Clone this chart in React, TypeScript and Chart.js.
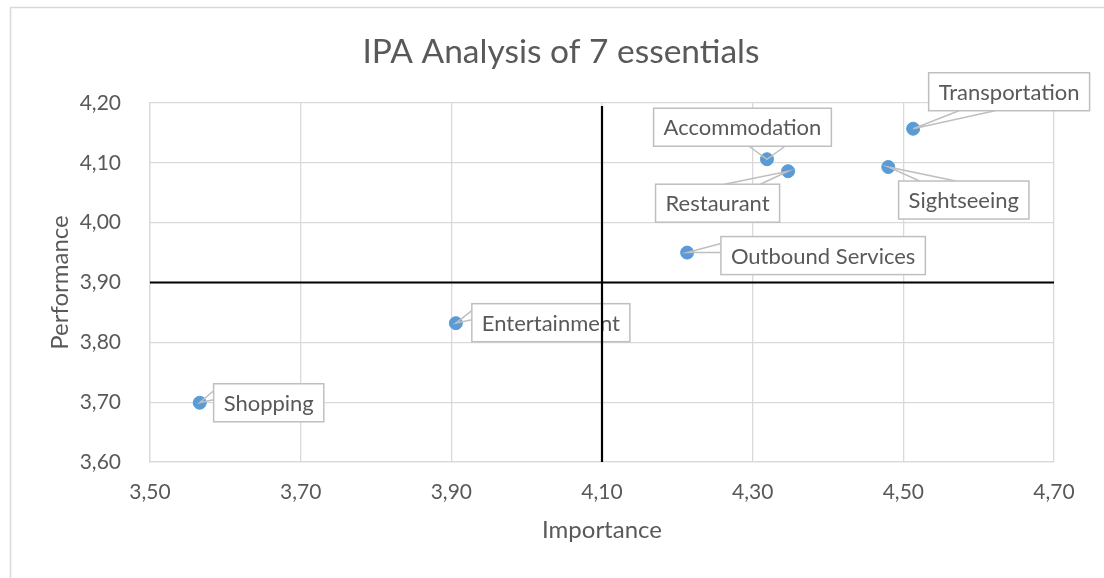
import React, { useEffect, useRef } from 'react';
import { Chart, registerables } from 'chart.js';

Chart.register(...registerables);

// ---- data ----
const categories = [
  'Transportation',
  'Accommodation',
  'Restaurant',
  'Sightseeing',
  'Outbound Services',
  'Entertainment',
  'Shopping',
];
const importance = [4.513, 4.319, 4.347, 4.48, 4.213, 3.906, 3.566];
const performance = [4.157, 4.106, 4.086, 4.093, 3.95, 3.832, 3.699];
const xTickValues = [3.5, 3.7, 3.9, 4.1, 4.3, 4.5, 4.7];
const yTickValues = [3.6, 3.7, 3.8, 3.9, 4.0, 4.1, 4.2];
const importanceMean = 4.1;
const performanceMean = 3.9;

// ---- label layout (box centre offset from its point, px) ----
const labelOffsets: [number, number][] = [
  [96, -37],
  [-24.5, -32],
  [-70.5, 32],
  [75.5, 33],
  [136, 3],
  [95, -0.5],
  [69, 0],
];

const TEXT = '#595959';
const GRID = '#D9D9D9';
const CALLOUT = '#BFBFBF';
const FONT = 'Lato';

const fmt = (v: number | string) => Number(v).toFixed(2).replace('.', ',');
const clamp = (v: number, a: number, b: number) => Math.max(a, Math.min(b, v));

const backgroundPlugin = {
  id: 'bgFrame',
  beforeDraw(chart: any) {
    const ctx = chart.ctx;
    ctx.save();
    ctx.fillStyle = '#FFFFFF';
    ctx.fillRect(0, 0, chart.width, chart.height);
    ctx.strokeStyle = GRID;
    ctx.lineWidth = 1.5;
    ctx.strokeRect(10.5, 7.5, chart.width + 40, chart.height + 40);
    ctx.restore();
  },
};

const calloutPlugin = {
  id: 'callouts',
  afterDatasetsDraw(chart: any) {
    const ctx = chart.ctx;
    const meta = chart.getDatasetMeta(0);
    ctx.save();
    ctx.font = `22px ${FONT}`;
    meta.data.forEach((pt: any, i: number) => {
      const text = categories[i];
      const [dx, dy] = labelOffsets[i];
      const tw = ctx.measureText(text).width;
      const w = tw + 20;
      const h = 38;
      const cx = pt.x + dx;
      const cy = pt.y + dy;
      const l = cx - w / 2, r = cx + w / 2, t = cy - h / 2, b = cy + h / 2;
      let a1: [number, number], a2: [number, number];
      if (pt.y > b) {
        const c = clamp(pt.x, l + 0.3 * w, r - 0.3 * w);
        a1 = [c - 18, b];
        a2 = [c + 18, b];
      } else if (pt.y < t) {
        const c = clamp(pt.x, l + 0.3 * w, r - 0.3 * w);
        a1 = [c - 18, t];
        a2 = [c + 18, t];
      } else if (pt.x < l) {
        a1 = [l, t + 7];
        a2 = [l, t + 16];
      } else {
        a1 = [r, t + 7];
        a2 = [r, t + 16];
      }
      ctx.strokeStyle = CALLOUT;
      ctx.lineWidth = 1.5;
      ctx.beginPath();
      ctx.moveTo(a1[0], a1[1]);
      ctx.lineTo(pt.x, pt.y);
      ctx.lineTo(a2[0], a2[1]);
      ctx.stroke();
      ctx.fillStyle = '#FFFFFF';
      ctx.fillRect(l, t, w, h);
      ctx.strokeRect(l, t, w, h);
      ctx.fillStyle = TEXT;
      ctx.textAlign = 'center';
      ctx.textBaseline = 'middle';
      ctx.fillText(text, cx, cy + 1);
    });
    ctx.restore();
  },
};

const quadrantPlugin = {
  id: 'quadrants',
  afterDraw(chart: any) {
    const ctx = chart.ctx;
    const xs = chart.scales.x;
    const ys = chart.scales.y;
    const area = chart.chartArea;
    ctx.save();
    ctx.strokeStyle = '#000000';
    ctx.lineWidth = 2.2;
    const vx = xs.getPixelForValue(importanceMean);
    ctx.beginPath();
    ctx.moveTo(vx, area.top + 3);
    ctx.lineTo(vx, area.bottom);
    ctx.stroke();
    const hy = ys.getPixelForValue(performanceMean);
    ctx.beginPath();
    ctx.moveTo(area.left, hy);
    ctx.lineTo(area.right, hy);
    ctx.stroke();
    ctx.restore();
  },
};

export default function App() {
  const ref = useRef<HTMLCanvasElement | null>(null);

  useEffect(() => {
    if (!ref.current) return;
    const chart = new Chart(ref.current, {
      type: 'scatter',
      data: {
        datasets: [
          {
            label: 'IPA',
            data: importance.map((x, i) => ({ x, y: performance[i] })),
            backgroundColor: '#5B9BD5',
            borderColor: '#5B9BD5',
            borderWidth: 1,
            pointRadius: 6.5,
          },
        ],
      },
      options: {
        responsive: false,
        animation: false,
        layout: { padding: { left: 68, right: 50, top: 0, bottom: 0 } },
        plugins: {
          legend: { display: false },
          tooltip: { enabled: false },
          title: {
            display: true,
            text: 'IPA Analysis of 7 essentials',
            color: TEXT,
            font: { family: FONT, size: 33.5, weight: 'normal' },
            padding: { top: 32, bottom: 30.8 },
          },
        },
        scales: {
          x: {
            type: 'linear',
            min: 3.5,
            max: 4.7,
            afterBuildTicks: (s: any) => {
              s.ticks = xTickValues.map((v) => ({ value: v }));
            },
            afterFit: (s: any) => {
              s.height = 116;
            },
            grid: { color: GRID, lineWidth: 1.3, drawTicks: false },
            border: { color: GRID, width: 1.3 },
            ticks: {
              padding: 18,
              color: TEXT,
              font: { family: FONT, size: 21 },
              callback: (v: any) => fmt(v),
              maxRotation: 0,
            },
            title: {
              display: true,
              text: 'Importance',
              color: TEXT,
              font: { family: FONT, size: 24 },
              padding: { top: 0, bottom: 33 },
            },
          },
          y: {
            type: 'linear',
            min: 3.6,
            max: 4.2,
            afterBuildTicks: (s: any) => {
              s.ticks = yTickValues.map((v) => ({ value: v }));
            },
            afterFit: (s: any) => {
              s.width = 82;
            },
            grid: { color: GRID, lineWidth: 1.3, drawTicks: false },
            border: { color: GRID, width: 1.3 },
            ticks: {
              padding: 29,
              color: TEXT,
              font: { family: FONT, size: 21 },
              callback: (v: any) => fmt(v),
            },
            title: {
              display: true,
              text: 'Performance',
              color: TEXT,
              font: { family: FONT, size: 24 },
              padding: { top: -22.4, bottom: 0 },
            },
          },
        },
      },
      plugins: [backgroundPlugin, calloutPlugin, quadrantPlugin],
    } as any);
    return () => chart.destroy();
  }, []);

  return (
    <div style={{ position: 'fixed', left: 0, top: 0, width: 1104, height: 578, overflow: 'hidden', background: '#fff' }}>
      <canvas ref={ref} width={1104} height={578} style={{ display: 'block' }} />
    </div>
  );
}
